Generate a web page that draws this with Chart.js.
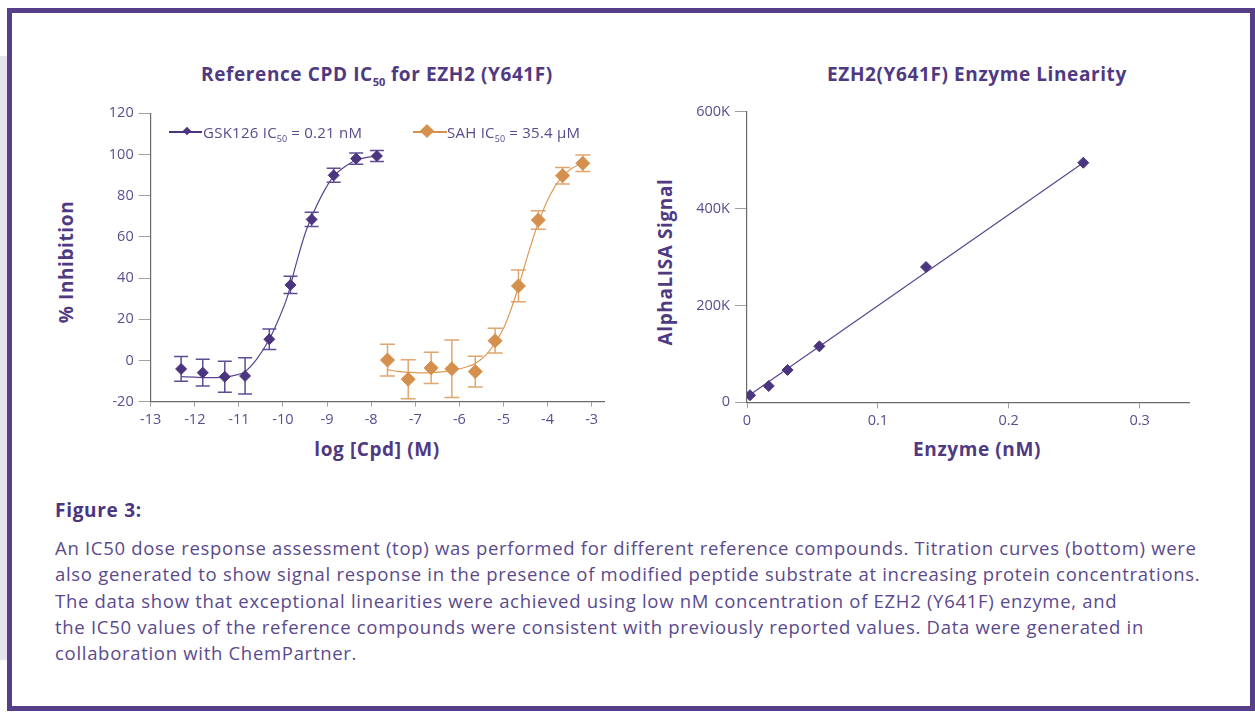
<!DOCTYPE html>
<html>
<head>
<meta charset="utf-8">
<script src="https://cdn.jsdelivr.net/npm/chart.js@4"></script>
<style>
  body { margin: 0; width: 1255px; height: 712px; background: #fff; position: relative; overflow: hidden;
         font-family: "Open Sans", "Noto Sans", sans-serif; color: #4f3a82; }
  .strip { position: absolute; left: 0; top: 56px; width: 7px; height: 604px; background: #e6e4ec; }
  .frame { position: absolute; left: 7px; top: 8px; width: 1248px; height: 703px; box-sizing: border-box;
           border: 5px solid #563e88; }
  .lbl { position: absolute; white-space: nowrap; font-weight: 700; font-size: 19px; letter-spacing: 0.6px; line-height: 22px;
         transform: translate(-50%, -50%); color: #4f3a82; }
  .rot { transform: translate(-50%, -50%) rotate(-90deg); }
  sub { font-size: 11px; vertical-align: -5px; line-height: 0; letter-spacing: 0; }
  .legend { position: absolute; top: 122px; height: 20px; font-size: 15px; letter-spacing: 0.25px; line-height: 20px; color: #5a4a8c; white-space: nowrap; }
  .legend .mk { position: absolute; top: 9px; height: 1.5px; }
  .legend .dm { position: absolute; transform: rotate(45deg); }
  .legend span.t { position: absolute; top: 0; }
  .legend sub { font-size: 9px; vertical-align: -4px; }
  canvas { position: absolute; }
  .fig { position: absolute; left: 55px; top: 499px; font-weight: 700; font-size: 19px; letter-spacing: 0.7px; line-height: 22px; color: #4a3580; }
  .desc { position: absolute; left: 55px; top: 535px; font-size: 18.5px; letter-spacing: 0.7px; line-height: 26.25px; color: #5a4a8c; white-space: nowrap; }
</style>
</head>
<body>
<div class="strip"></div>
<div class="frame"></div>

<div class="lbl" style="left:377px; top:74px;">Reference CPD IC<sub>50</sub> for EZH2 (Y641F)</div>
<div class="lbl" style="left:977px; top:74px;">EZH2(Y641F) Enzyme Linearity</div>
<div class="lbl rot" style="left:66px; top:262px;">% Inhibition</div>
<div class="lbl" style="left:377px; top:449px;">log [Cpd] (M)</div>
<div class="lbl rot" style="left:665px; top:262px;">AlphaLISA Signal</div>
<div class="lbl" style="left:977px; top:449px;">Enzyme (nM)</div>

<canvas id="doseChart" width="600" height="380" style="left:30px; top:90px;"></canvas>
<canvas id="linChart" width="580" height="380" style="left:640px; top:90px;"></canvas>

<div class="legend" style="left:169px;">
  <div class="mk" style="left:0; width:33px; background:#4b3580;"></div>
  <div class="dm" style="left:15px; top:6px; width:6px; height:6px; background:#4b3580;"></div>
  <span class="t" style="left:34px;">GSK126 IC<sub>50</sub> = 0.21 nM</span>
</div>
<div class="legend" style="left:413px;">
  <div class="mk" style="left:0; width:34px; background:#d4904c;"></div>
  <div class="dm" style="left:9px; top:4px; width:10px; height:10px; background:#d4904c;"></div>
  <span class="t" style="left:34px;">SAH IC<sub>50</sub> = 35.4 µM</span>
</div>

<div class="fig">Figure 3:</div>
<div class="desc">An IC50 dose response assessment (top) was performed for different reference compounds. Titration curves (bottom) were<br>also generated to show signal response in the presence of modified peptide substrate at increasing protein concentrations.<br>The data show that exceptional linearities were achieved using low nM concentration of EZH2 (Y641F) enzyme, and<br>the IC50 values of the reference compounds were consistent with previously reported values. Data were generated in<br>collaboration with ChemPartner.</div>

<script>
// dose response data (log M, % inhibition, +/- error)
const gskLogConc = [-12.31, -11.82, -11.32, -10.86, -10.31, -9.83, -9.35, -8.85, -8.34, -7.87];
const gskInhibition = [-4.1, -5.9, -7.9, -7.5, 10.3, 36.7, 68.5, 89.9, 98.0, 99.3];
const gskError = [6.0, 6.5, 7.5, 8.8, 5.0, 4.2, 3.5, 3.4, 2.7, 2.7];
const sahLogConc = [-7.63, -7.16, -6.64, -6.17, -5.64, -5.19, -4.66, -4.21, -3.66, -3.20];
const sahInhibition = [0.2, -9.1, -3.6, -4.0, -5.4, 9.6, 36.2, 68.2, 89.7, 95.7];
const sahError = [7.7, 9.5, 7.6, 14.0, 7.5, 6.0, 7.7, 4.5, 4.0, 4.0];

// fitted curves
const gskCurveX = [-12.3, -12.0, -11.7, -11.4, -11.1, -10.86, -10.6, -10.31, -10.1, -9.9, -9.7, -9.5, -9.35, -9.1, -8.85, -8.6, -8.35, -8.1, -7.85];
const gskCurveY = [-7.8, -8.1, -8.3, -8.2, -7.2, -5.4, 0.5, 10.3, 20.0, 31.0, 47.0, 61.5, 69.8, 81.0, 89.5, 94.1, 97.2, 98.6, 99.3];
const sahCurveX = [-7.63, -7.4, -7.15, -6.9, -6.65, -6.4, -6.15, -5.9, -5.65, -5.4, -5.19, -4.95, -4.7, -4.45, -4.2, -3.95, -3.7, -3.45, -3.2];
const sahCurveY = [-4.4, -5.3, -5.8, -6.0, -5.9, -5.5, -4.8, -3.5, -1.6, 2.6, 8.5, 18.0, 33.0, 51.0, 67.5, 80.0, 88.5, 93.3, 95.8];

const doseXTicks = [-13, -12, -11, -10, -9, -8, -7, -6, -5, -4, -3];
const doseYTicks = [-20, 0, 20, 40, 60, 80, 100, 120];

// enzyme linearity data
const enzymeConc = [0.0023, 0.0166, 0.031, 0.0553, 0.1368, 0.257];
const alphaSignal = [14500, 33700, 66700, 115600, 279300, 494600];
const fitLineX = [0.002, 0.257];
const fitLineY = [15000, 494700];
const linXTicks = [0, 0.1, 0.2, 0.3];
const linYTicks = [0, 200000, 400000, 600000];
const linYLabels = ['0', '200K', '400K', '600K'];

const purple = '#4b3580';
const orange = '#d4904c';
const tickColor = '#5d4d8f';
const tickFont = { family: '"Open Sans", sans-serif', size: 14.5 };

const zip = (xs, ys) => xs.map((x, i) => ({ x: x, y: ys[i] }));

// draws vertical error bars with caps under the markers
const errorBars = {
    id: 'errorBars',
    beforeDatasetsDraw(chart) {
        const ctx = chart.ctx;
        const xs = chart.scales.x, ys = chart.scales.y;
        chart.data.datasets.forEach((ds) => {
            if (!ds.errors) return;
            ctx.save();
            ctx.strokeStyle = ds.errorColor;
            ctx.lineWidth = 1.5;
            ds.data.forEach((p, j) => {
                const px = xs.getPixelForValue(p.x);
                const top = ys.getPixelForValue(p.y + ds.errors[j]);
                const bot = ys.getPixelForValue(p.y - ds.errors[j]);
                ctx.beginPath();
                ctx.moveTo(px, top); ctx.lineTo(px, bot);
                ctx.moveTo(px - ds.capWidth, top); ctx.lineTo(px + ds.capWidth, top);
                ctx.moveTo(px - ds.capWidth, bot); ctx.lineTo(px + ds.capWidth, bot);
                ctx.stroke();
            });
            ctx.restore();
        });
    }
};

function axisOptions(opts) {
    return {
        type: 'linear',
        min: opts.min,
        max: opts.max,
        grid: { drawOnChartArea: false, drawTicks: true, tickLength: opts.tickLength, color: '#a0a0a0', lineWidth: 1 },
        border: { display: true, color: '#6a6a6a', width: 1.2 },
        ticks: {
            color: tickColor, font: tickFont, padding: opts.padding, autoSkip: false, maxRotation: 0,
            callback: opts.callback || (v => String(v))
        },
        afterBuildTicks: s => { s.ticks = opts.ticks.map(v => ({ value: v })); },
        afterFit: opts.fit
    };
}

new Chart(document.getElementById('doseChart'), {
    type: 'scatter',
    data: {
        datasets: [
            {
                label: 'GSK126 fit', data: zip(gskCurveX, gskCurveY), showLine: true, pointRadius: 0,
                borderColor: '#5a4590', borderWidth: 1.2, cubicInterpolationMode: 'monotone', order: 3
            },
            {
                label: 'SAH fit', data: zip(sahCurveX, sahCurveY), showLine: true, pointRadius: 0,
                borderColor: '#dd9a55', borderWidth: 1.2, cubicInterpolationMode: 'monotone', order: 3
            },
            {
                label: 'GSK126', data: zip(gskLogConc, gskInhibition), errors: gskError, errorColor: '#5e4d95', capWidth: 7,
                pointStyle: 'rectRot', pointRadius: 5.5, backgroundColor: purple, borderColor: purple, borderWidth: 1, order: 1
            },
            {
                label: 'SAH', data: zip(sahLogConc, sahInhibition), errors: sahError, errorColor: '#e0a66e', capWidth: 7.5,
                pointStyle: 'rectRot', pointRadius: 7, backgroundColor: orange, borderColor: orange, borderWidth: 1, order: 2
            }
        ]
    },
    options: {
        responsive: false,
        animation: false,
        layout: { padding: { top: 23.3, right: 26, bottom: 0, left: 0 } },
        plugins: { legend: { display: false }, tooltip: { enabled: false } },
        scales: {
            x: axisOptions({ min: -13, max: -2.72, ticks: doseXTicks, tickLength: 5, padding: 4.5,
                             fit: s => { s.height = 68.3; } }),
            y: axisOptions({ min: -20, max: 120, ticks: doseYTicks, tickLength: 12, padding: 5,
                             fit: s => { s.width = 120.7; } })
        }
    },
    plugins: [errorBars]
});

new Chart(document.getElementById('linChart'), {
    type: 'scatter',
    data: {
        datasets: [
            {
                label: 'Linear fit', data: zip(fitLineX, fitLineY), showLine: true, pointRadius: 0,
                borderColor: '#5a4590', borderWidth: 1.2, order: 2
            },
            {
                label: 'EZH2(Y641F)', data: zip(enzymeConc, alphaSignal),
                pointStyle: 'rectRot', pointRadius: 5.5, backgroundColor: purple, borderColor: purple, borderWidth: 1, order: 1
            }
        ]
    },
    options: {
        responsive: false,
        animation: false,
        layout: { padding: { top: 21.7, right: 30.7, bottom: 0, left: 0 } },
        plugins: { legend: { display: false }, tooltip: { enabled: false } },
        scales: {
            x: axisOptions({ min: 0, max: 0.338, ticks: linXTicks, tickLength: 6, padding: 4,
                             fit: s => { s.height = 67.7; } }),
            y: axisOptions({ min: 0, max: 600000, ticks: linYTicks, tickLength: 12, padding: 5,
                             callback: v => linYLabels[linYTicks.indexOf(v)],
                             fit: s => { s.width = 107; } })
        }
    }
});
</script>
</body>
</html>
